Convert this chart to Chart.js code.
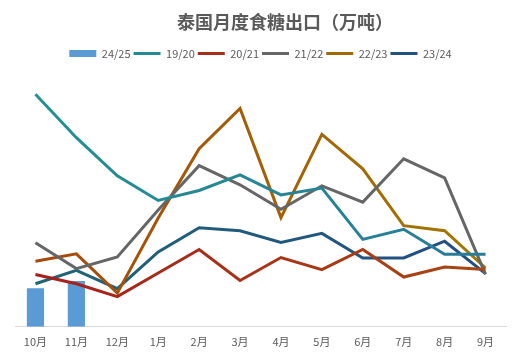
<!DOCTYPE html>
<html>
<head>
<meta charset="utf-8">
<script src="https://cdn.jsdelivr.net/npm/chart.js@4/dist/chart.umd.min.js"></script>
<style>
  html, body { margin: 0; padding: 0; background: #fff; }
  #wrap { width: 522px; height: 359px; }
</style>
</head>
<body>
<div id="wrap"><canvas id="myChart"></canvas></div>
<script>
var chartTitle = "泰国月度食糖出口（万吨）";
var months = ["10月", "11月", "12月", "1月", "2月", "3月", "4月", "5月", "6月", "7月", "8月", "9月"];

var s2425 = [19.2, 22.7, null, null, null, null, null, null, null, null, null, null];
var s1920 = [115.5, 93.9, 75, 62.7, 67.7, 75.4, 65.5, 68.9, 43.4, 48.4, 36, 36];
var s2021 = [26, 21.4, 15, 26.7, 38.4, 23, 34.4, 28.4, 38.4, 24.7, 29.7, 28.4];
var s2122 = [41.7, 28.9, 34.7, 58, 80, 70.5, 58.4, 70, 61.9, 83.4, 73.9, 26];
var s2223 = [32.5, 36.2, 16.7, 54, 88.4, 108.4, 54.2, 95.5, 78.4, 50.2, 47.7, 29.2];
var s2324 = [21.4, 28, 18.9, 37.2, 49.2, 47.7, 41.9, 46.4, 34.2, 34.2, 42.5, 26.4];

var textColor = "#595959";
var fontFamily = "'Noto Sans CJK SC', 'Noto Sans', sans-serif";

// left-to-right colour shift like the original line styles
function grad(c1, c2) {
  return function (context) {
    var chart = context.chart;
    var area = chart.chartArea;
    if (!area) return c1;
    var g = chart.ctx.createLinearGradient(area.left, 0, area.right, 0);
    g.addColorStop(0, c1);
    g.addColorStop(1, c2);
    return g;
  };
}

function lineSet(label, data, color) {
  return {
    type: "line",
    label: label,
    data: data,
    borderColor: color,
    backgroundColor: color,
    borderWidth: 3,
    pointRadius: 0,
    pointHoverRadius: 0,
    pointStyle: "line",
    tension: 0,
    fill: false,
    order: 1
  };
}

var titlePlugin = {
  id: "offsetTitle",
  afterDraw: function (chart) {
    var ctx = chart.ctx;
    ctx.save();
    ctx.font = "bold 18px " + fontFamily;
    ctx.fillStyle = textColor;
    ctx.textAlign = "center";
    ctx.textBaseline = "middle";
    ctx.fillText(chartTitle, chart.width / 2 + 24, 22);
    ctx.restore();
  }
};

new Chart("myChart", {
  type: "bar",
  data: {
    labels: months,
    datasets: [{
      type: "bar",
      label: "24/25",
      data: s2425,
      backgroundColor: "#5b9bd5",
      borderWidth: 0,
      barPercentage: 0.42,
      categoryPercentage: 1,
      pointStyle: "rect",
      order: 10
    },
    lineSet("19/20", s1920, grad("#229191", "#2a7a98")),
    lineSet("20/21", s2021, grad("#a81c1c", "#a84a12")),
    lineSet("21/22", s2122, "#666666"),
    lineSet("22/23", s2223, grad("#a8440a", "#9e7c00")),
    lineSet("23/24", s2324, grad("#1f6676", "#234c84"))]
  },
  options: {
    responsive: true,
    maintainAspectRatio: false,
    animation: false,
    layout: {padding: {top: 45, left: 15, right: 16, bottom: 11}},
    plugins: {
      title: {display: false},
      tooltip: {enabled: false},
      legend: {
        position: "top",
        labels: {
          usePointStyle: true,
          pointStyleWidth: 27,
          boxHeight: 7,
          padding: 3,
          color: textColor,
          font: {size: 11, family: fontFamily},
          sort: function (a, b) { return a.datasetIndex - b.datasetIndex; }
        }
      }
    },
    scales: {
      x: {
        grid: {display: false},
        border: {display: true, color: "#d9d9d9", width: 1},
        ticks: {color: textColor, font: {size: 11, family: fontFamily}, padding: 0}
      },
      y: {
        display: false,
        min: 0,
        max: 128
      }
    }
  },
  plugins: [titlePlugin]
});
</script>
</body>
</html>
